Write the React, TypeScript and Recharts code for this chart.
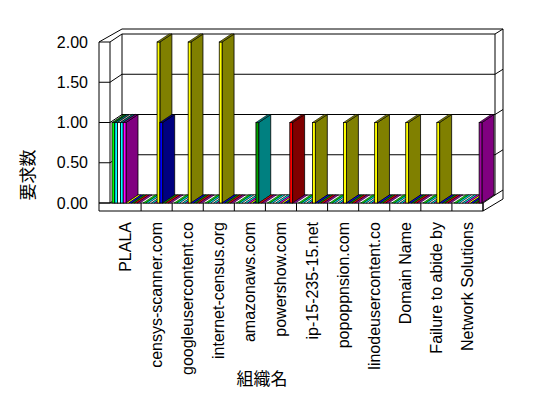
import React from 'react'
import { BarChart, Bar, XAxis, YAxis, CartesianGrid, Customized } from 'recharts'

const categories = [
  'PLALA', 'censys-scanner.com', 'googleusercontent.co', 'internet-census.org',
  'amazonaws.com', 'powershow.com', 'ip-15-235-15.net', 'popoppnsion.com',
  'linodeusercontent.co', 'Domain Name', 'Failure to abide by', 'Network Solutions',
]

// one array per series, one value per category
const s1 = [1, 0, 0, 0, 0, 0, 0, 0, 0, 0, 0, 0]
const s2 = [1, 0, 0, 0, 0, 0, 0, 0, 0, 0, 0, 0]
const s3 = [1, 0, 0, 0, 0, 0, 0, 0, 0, 0, 0, 0]
const s4 = [1, 0, 0, 0, 0, 0, 0, 0, 0, 0, 0, 0]
const s5 = [1, 0, 0, 0, 0, 0, 0, 0, 0, 0, 0, 0]
const s6 = [0, 2, 2, 2, 0, 0, 1, 1, 1, 1, 1, 0]
const s7 = [0, 1, 0, 0, 0, 0, 0, 0, 0, 0, 0, 0]
const s8 = [0, 0, 0, 0, 1, 0, 0, 0, 0, 0, 0, 0]
const s9 = [0, 0, 0, 0, 0, 1, 0, 0, 0, 0, 0, 0]
const s10 = [0, 0, 0, 0, 0, 0, 0, 0, 0, 0, 0, 1]

const seriesList = [s1, s2, s3, s4, s5, s6, s7, s8, s9, s10]
const FRONT = ['#00FF00', '#00FFFF', '#FFFFFF', '#00FFFF', '#FF00FF', '#FFFF00', '#0000FF', '#00A000', '#FF0000', '#A000A0']
const SIDE = ['#008000', '#008080', '#C0C0C0', '#008080', '#800080', '#808000', '#000080', '#008080', '#800000', '#800080']

const yTicks = [0, 0.5, 1, 1.5, 2]

const data = categories.map((name, i) => {
  const row: Record<string, any> = { name }
  seriesList.forEach((s, k) => { row['s' + (k + 1)] = s[i] })
  return row
})

// layout
const W = 548, H = 398
const PLOT_L = 110, PLOT_R = 483, PLOT_T = 42, PLOT_B = 203
const DX = 12, DY = 8
const BAND = (PLOT_R - PLOT_L) / categories.length
const FONT = '"Liberation Sans", Arial, sans-serif'
const JP = '"Noto Sans CJK JP", sans-serif'

function Box3D(props: any) {
  const { x, y, width, height, front, side } = props
  const h = Math.max(height || 0, 0)
  const w = width
  const top = `M${x},${y} L${x + DX},${y - DY} L${x + w + DX},${y - DY} L${x + w},${y} Z`
  const sd = `M${x + w},${y} L${x + w + DX},${y - DY} L${x + w + DX},${y + h - DY} L${x + w},${y + h} Z`
  return (
    <g>
      {h > 0 && <path d={sd} fill={side} stroke="#000" strokeWidth={0.8} />}
      {h > 0 && <rect x={x} y={y} width={w} height={h} fill={front} stroke="#000" strokeWidth={0.8} />}
      <path d={top} fill={h > 0 ? side : front} stroke="#000" strokeWidth={0.6} />
    </g>
  )
}

function CatTick(props: any) {
  const { x, y, payload } = props
  const bx = x + BAND / 2
  return (
    <g>
      <line x1={bx} y1={PLOT_B} x2={bx} y2={PLOT_B + 8} stroke="#000" />
      <text x={x} y={y} transform={`rotate(-90, ${x}, ${y})`} textAnchor="end"
        dominantBaseline="central" fontSize={16} fontFamily={FONT} fill="#000">
        {payload.value}
      </text>
    </g>
  )
}

function GridLine(p: any) {
  const { x1, x2, y1 } = p
  const by = y1 - DY
  return (
    <g key={`g-${y1}`} stroke="#000" strokeWidth={1}>
      <line x1={x1 - 11} y1={y1} x2={x1} y2={y1} />
      <line x1={x1} y1={y1} x2={x1 + DX} y2={by} />
      <line x1={x1 + DX} y1={by} x2={x2 + DX} y2={by} />
      <line x1={x2 + DX} y1={by} x2={x2 + DX + 8} y2={by - 5} />
    </g>
  )
}

function Frame() {
  const L0 = PLOT_L - 11
  return (
    <g stroke="#000" strokeWidth={1} fill="none">
      <line x1={L0} y1={PLOT_T} x2={L0} y2={PLOT_B + 8} />
      <line x1={PLOT_L} y1={PLOT_T} x2={PLOT_L} y2={PLOT_B} />
      <line x1={L0} y1={PLOT_B} x2={PLOT_R} y2={PLOT_B} />
      <line x1={L0} y1={PLOT_B + 8} x2={PLOT_R} y2={PLOT_B + 8} />
      <line x1={PLOT_R} y1={PLOT_B} x2={PLOT_R} y2={PLOT_B + 8} />
      <line x1={PLOT_R} y1={PLOT_B + 8} x2={PLOT_R + DX + 8} y2={PLOT_B - 4} />
      <line x1={PLOT_R} y1={PLOT_B} x2={PLOT_R + DX} y2={PLOT_B - DY} />
      <line x1={L0} y1={PLOT_T} x2={PLOT_L + DX} y2={PLOT_T - 13} />
      <line x1={PLOT_L + DX} y1={PLOT_T - 13} x2={PLOT_R + DX + 8} y2={PLOT_T - 13} />
      <line x1={PLOT_L + DX} y1={PLOT_T - DY} x2={PLOT_L + DX} y2={PLOT_B - DY} />
      <line x1={PLOT_R + DX} y1={PLOT_T - DY} x2={PLOT_R + DX} y2={PLOT_B - DY} />
      <line x1={PLOT_R + DX + 8} y1={PLOT_T - 13} x2={PLOT_R + DX + 8} y2={PLOT_B - 4} />
      <text x={26} y={175} transform="rotate(-90, 26, 175)" textAnchor="middle"
        dominantBaseline="central" fontSize={17} fontFamily={JP} fill="#000" stroke="none">要求数</text>
      <text x={262} y={377} textAnchor="middle" dominantBaseline="central"
        fontSize={17} fontFamily={JP} fill="#000" stroke="none">組織名</text>
    </g>
  )
}

export default function App() {
  return (
    <div style={{ position: 'absolute', left: 0, top: 0, width: W, height: H, background: '#fff' }}>
      <BarChart width={W} height={H} data={data} barGap={0} barSize={2.8}
        margin={{ top: PLOT_T, right: W - PLOT_R, left: PLOT_L - 60, bottom: 25 }}>
        <CartesianGrid vertical={false} horizontal={GridLine as any} />
        <XAxis dataKey="name" interval={0} axisLine={false} tickLine={false} tickSize={0}
          tickMargin={19} height={H - 25 - PLOT_B} tick={<CatTick />} />
        <YAxis domain={[0, 2]} ticks={yTicks} width={60} axisLine={false} tickLine={false}
          tickSize={0} tickMargin={22} tickFormatter={(v: number) => v.toFixed(2)}
          tick={{ fontSize: 16, fill: '#000', fontFamily: FONT }} />
        <Customized component={Frame} />
        {seriesList.map((_, k) => (
          <Bar key={k} dataKey={'s' + (k + 1)} barSize={2.8} isAnimationActive={false}
            shape={(p: any) => <Box3D {...p} front={FRONT[k]} side={SIDE[k]} />} />
        ))}
      </BarChart>
    </div>
  )
}
